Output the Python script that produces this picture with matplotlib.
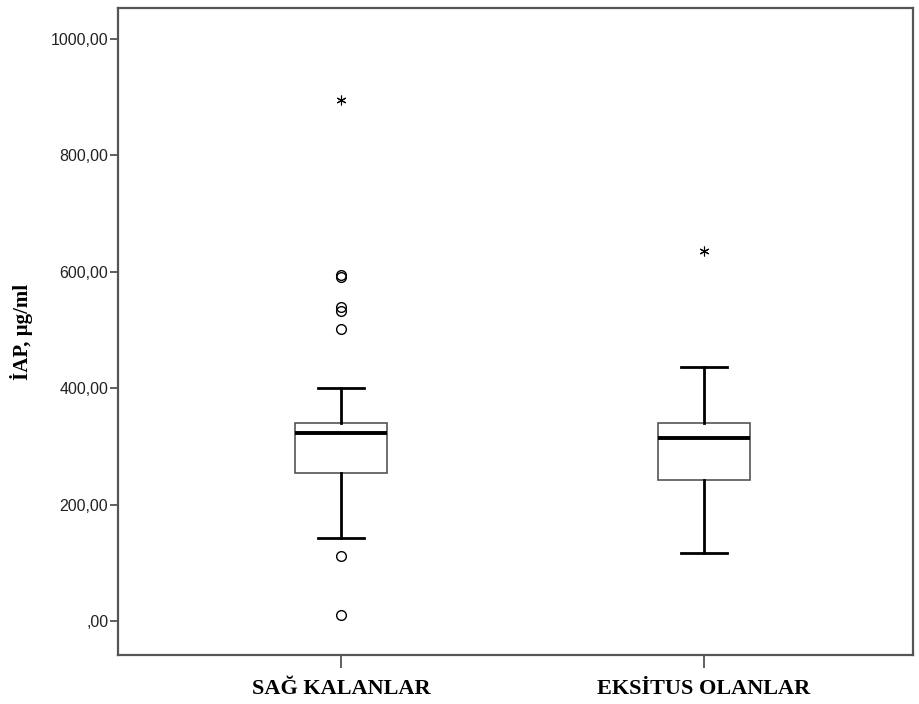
import matplotlib.pyplot as plt

# group names and box statistics
groups = ['SAĞ KALANLAR', 'EKSİTUS OLANLAR']
medians = [323, 314]
q1 = [254, 242]
q3 = [340, 340]
whisk_lo = [143, 118]
whisk_hi = [400, 436]
outliers = [[594, 591, 539, 533, 502, 112, 10], []]
extremes = [[895], [636]]
yticks = [0, 200, 400, 600, 800, 1000]
ytick_labels = [',00', '200,00', '400,00', '600,00', '800,00', '1000,00']

stats = []
for i, g in enumerate(groups):
    stats.append({'label': g, 'med': medians[i], 'q1': q1[i], 'q3': q3[i],
                  'whislo': whisk_lo[i], 'whishi': whisk_hi[i], 'fliers': outliers[i]})

fig = plt.figure(figsize=(9.2, 7.04), dpi=100)
ax = fig.add_axes([118/920, 1 - 655/704, (913-118)/920, (655-8)/704])

positions = [1, 2]
ax.bxp(stats, positions=positions, widths=0.253, patch_artist=True,
       boxprops=dict(facecolor='white', edgecolor='#555555', linewidth=1.2),
       medianprops=dict(color='black', linewidth=2.8),
       whiskerprops=dict(color='black', linewidth=2.0),
       capprops=dict(color='black', linewidth=2.0),
       capwidths=0.125,
       flierprops=dict(marker='o', markerfacecolor='none', markeredgecolor='black',
                       markersize=7, markeredgewidth=1.0))

for p, ext in zip(positions, extremes):
    ax.plot([p] * len(ext), ext, linestyle='none', marker=(6, 2, 0), color='black',
            markersize=7, markeredgewidth=0.8)

ax.set_xlim(0.386, 2.576)
ax.set_ylim(-58, 1053)
ax.set_yticks(yticks)
ax.set_yticklabels(ytick_labels, fontfamily='Liberation Sans', fontsize=11.5, color='#222222')
ax.set_xticks(positions)
ax.set_xticklabels(groups, fontfamily='Liberation Serif', fontweight='bold', fontsize=16)
ax.tick_params(axis='y', length=6, width=1.2, color='#444444', pad=1)
ax.tick_params(axis='x', length=9, width=1.2, color='#444444', pad=8)
for s in ax.spines.values():
    s.set_color('#555555')
    s.set_linewidth(1.6)

ax.set_ylabel('İAP, µg/ml', fontfamily='Liberation Serif', fontweight='bold', fontsize=15)
ax.yaxis.set_label_coords(-0.107, 0.5)

plt.savefig('out.png')
